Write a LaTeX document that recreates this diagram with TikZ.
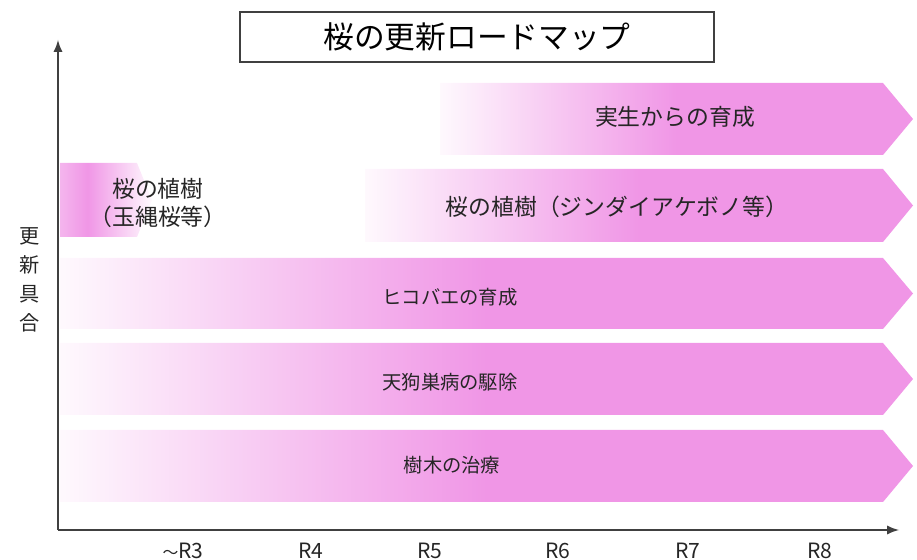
\documentclass[tikz,border=0pt]{standalone}
\usepackage{fontspec}
\setmainfont{Noto Sans CJK JP}
\usepackage{tikz}
\usetikzlibrary{arrows,positioning}
\usepackage{xcolor}
\definecolor{rowpink}{RGB}{240,150,230}
\definecolor{axisgray}{RGB}{64,64,64}
\pgfdeclarehorizontalshading{rowfade}{100bp}{color(0bp)=(rowpink!6); color(25bp)=(rowpink!6); color(50bp)=(rowpink); color(100bp)=(rowpink)}
\pgfdeclarehorizontalshading{shortfade}{100bp}{color(0bp)=(rowpink!70); color(25bp)=(rowpink!70); color(40bp)=(rowpink); color(75bp)=(rowpink!5); color(100bp)=(rowpink!5)}
\tikzstyle{axis} = [line width=1.3pt,->,>=latex,color=axisgray]
\tikzstyle{band} = [shading=rowfade]
\tikzstyle{bigtext} = [font=\fontsize{13}{16}\selectfont, text=black!85]
\tikzstyle{smalltext} = [font=\fontsize{11}{13}\selectfont, text=black!85]
\tikzstyle{year} = [font=\fontsize{12}{14}\selectfont, text=black!85]

\begin{document}
\begin{tikzpicture}[x=0.02cm, y=-0.02cm]
\useasboundingbox (0,0) rectangle (917,560);

% Title
\node[draw=axisgray, line width=1.1pt, minimum width=9.48cm, minimum height=1cm,
      font=\fontsize{17.5}{20}\selectfont] (title) at (477,37) {桜の更新ロードマップ};

% Bands
\path[band] (440,83) -- (883,83) -- (913,119) -- (883,155) -- (440,155) -- cycle;
\path[band] (365,169) -- (883,169) -- (913,205.5) -- (883,242) -- (365,242) -- cycle;
\path[shading=shortfade] (60,163) -- (137,163) -- (152,200) -- (137,237) -- (60,237) -- cycle;
\path[band] (60,258) -- (883,258) -- (913,293.5) -- (883,329) -- (60,329) -- cycle;
\path[band] (60,343) -- (883,343) -- (913,379) -- (883,415) -- (60,415) -- cycle;
\path[band] (60,430) -- (883,430) -- (913,466) -- (883,502) -- (60,502) -- cycle;

% Band labels
\node[bigtext] (seedling) at (675,117) {実生からの育成};
\node[bigtext] (jindai) at (617,207) {桜の植樹（ジンダイアケボノ等）};
\node[bigtext, align=center] (tamanawa) at (158,203) {桜の植樹\\（玉縄桜等）};
\node[smalltext] (hikobae) at (450,297) {ヒコバエの育成};
\node[smalltext] (tengusu) at (450,382) {天狗巣病の駆除};
\node[smalltext] (treat) at (452,465) {樹木の治療};

% Axes
\coordinate (O) at (58,530);
\coordinate (ytop) at (58,40);
\coordinate (xend) at (899,530);
\draw[axis] (O) -- (ytop);
\draw[axis] (O) -- (xend);

% Axis labels
\node[font=\fontsize{11.5}{16.5}\selectfont, align=center, text=black!85] (ylab) at (30,280) {更\\新\\具\\合};
\node[year] (r3) at (183,551) {{\fontsize{9}{9}\selectfont ～}R3};
\node[year] (r4) at (311,551) {R4};
\node[year] (r5) at (430,551) {R5};
\node[year] (r6) at (558,551) {R6};
\node[year] (r7) at (688,551) {R7};
\node[year] (r8) at (820,551) {R8};
\end{tikzpicture}
\end{document}
